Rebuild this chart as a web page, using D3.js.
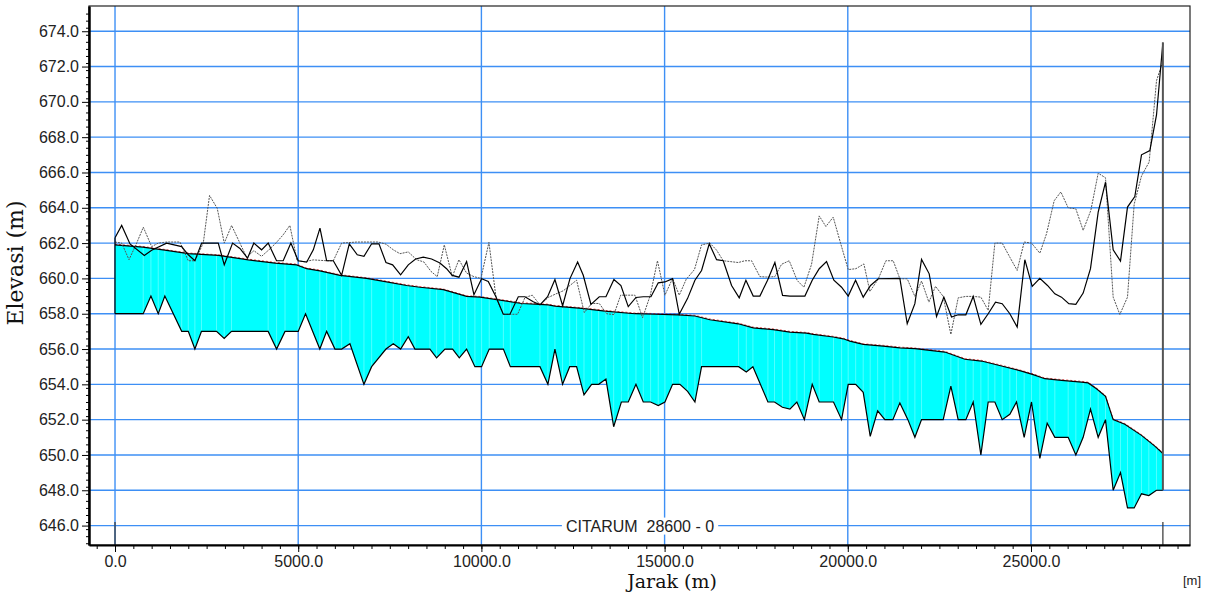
<!DOCTYPE html>
<html>
<head>
<meta charset="utf-8">
<script src="https://cdn.jsdelivr.net/npm/d3@7/dist/d3.min.js"></script>
<style>
  body { margin: 0; background: #fff; }
  .tick text { font-family: "Liberation Sans", Arial, sans-serif; font-size: 16px; fill: #222; }
</style>
</head>
<body>
<script>
// profile data, [station (m), elevation (m)]
let channelBed = [
  [0, 658], [770, 658], [980, 659], [1180, 658], [1360, 659], [1820, 657], [2000, 657],
  [2180, 656], [2360, 657], [2770, 657], [2980, 656.6], [3180, 657], [4180, 657], [4410, 656],
  [4640, 657], [5000, 657], [5200, 658], [5590, 656], [5776, 657], [6003, 656], [6185, 656],
  [6412, 656.3], [6794, 654], [7004, 655], [7395, 656], [7595, 656.3], [7795, 656], [8004, 656.7],
  [8186, 656], [8595, 656], [8777, 655.5], [9005, 656], [9214, 656], [9396, 655.5], [9596, 656],
  [9823, 655], [10005, 655], [10214, 656], [10600, 656], [10790, 655], [11598, 655], [11815, 654],
  [12007, 656], [12215, 654], [12410, 655], [12598, 655], [12800, 653.4], [13008, 654], [13200, 654],
  [13399, 654.3], [13610, 651.6], [13820, 653], [14008, 653], [14218, 654], [14418, 653], [14618, 653],
  [14827, 652.8], [15009, 653], [15218, 654], [15418, 654], [15628, 653.6], [15828, 653], [16009, 655],
  [17020, 655], [17230, 654.7], [17410, 655], [17820, 653], [18000, 653], [18215, 652.7], [18420, 652.6],
  [18610, 653], [18815, 652], [19029, 654], [19220, 653], [19610, 653], [19830, 652], [20011, 654],
  [20215, 654], [20421, 653.55], [20612, 651.05], [20815, 652.5], [21012, 652], [21230, 652],
  [21421, 652.95], [21640, 652], [21831, 651], [22013, 652], [22604, 652], [22813, 653.9], [23013, 652],
  [23222, 652], [23423, 653], [23632, 650], [23832, 653], [24014, 653], [24214, 652], [24423, 652.3],
  [24605, 653], [24814, 651], [25014, 653], [25242, 649.8], [25442, 651.8], [25651, 651], [26015, 651],
  [26224, 650], [26424, 651], [26624, 652.6], [26834, 651], [27034, 652], [27243, 648], [27443, 649],
  [27634, 647], [27816, 647], [28016, 647.8], [28216, 647.7], [28425, 648], [28600, 648]
];

let waterSurface = [
  [0, 661.9], [760, 661.77], [1360, 661.6], [2000, 661.4], [2820, 661.3], [3640, 661.05],
  [4370, 660.87], [4955, 660.77], [5230, 660.55], [5594, 660.43], [6140, 660.17], [6867, 660.0],
  [7413, 659.8], [7960, 659.6], [8323, 659.5], [8960, 659.36], [9596, 658.98], [9960, 658.94],
  [10370, 658.81], [11098, 658.58], [11825, 658.5], [12007, 658.43], [12735, 658.3], [13372, 658.15],
  [14190, 658.0], [14736, 657.97], [15373, 657.93], [15828, 657.87], [16237, 657.66], [17010, 657.43],
  [17419, 657.2], [17965, 657.1], [18420, 656.96], [18874, 656.9], [19056, 656.83], [19602, 656.68],
  [19875, 656.58], [20057, 656.45], [20421, 656.26], [20967, 656.17], [21422, 656.07], [21831, 656.02],
  [22650, 655.83], [23195, 655.42], [23650, 655.32], [24196, 655.04], [24741, 654.75], [25060, 654.55],
  [25378, 654.32], [25833, 654.23], [26379, 654.13], [26560, 654.08], [26788, 653.75], [27034, 653.32],
  [27243, 652.0], [27561, 651.74], [28016, 651.11], [28380, 650.5], [28600, 650.08]
];

let leftBank = [
  [0, 662.3], [182, 663.0], [409, 661.95], [800, 661.3], [1000, 661.6], [1409, 662.0], [1818, 661.8],
  [2000, 661.34], [2180, 661.0], [2364, 662], [2818, 662], [2982, 660.77], [3209, 662], [3409, 661.7],
  [3618, 661.15], [3790, 662], [4000, 661.62], [4181, 662], [4409, 661], [4590, 661], [4800, 662],
  [5000, 661.0], [5230, 660.92], [5412, 661.62], [5594, 662.85], [5776, 661.0], [5958, 661.0],
  [6185, 660.17], [6394, 661.96], [6612, 661.34], [6794, 661.25], [7004, 661.96], [7204, 661.96],
  [7395, 660.9], [7577, 660.77], [7795, 660.2], [8004, 660.77], [8204, 661.1], [8414, 661.2],
  [8641, 661.1], [8868, 660.87], [9050, 660.55], [9205, 660.17], [9387, 660.07], [9596, 660.96],
  [9796, 659.08], [10005, 659.98], [10187, 659.83], [10400, 658.95], [10597, 657.97], [10779, 657.97],
  [11007, 658.96], [11189, 658.96], [11416, 658.68], [11598, 658.5], [11807, 658.96], [12007, 659.94],
  [12217, 658.45], [12417, 659.99], [12626, 660.93], [12780, 660.18], [12990, 658.53], [13217, 658.96],
  [13399, 658.96], [13617, 659.94], [13808, 659.6], [14008, 658.4], [14218, 658.92], [14418, 658.96],
  [14627, 658.96], [14827, 659.75], [15009, 659.8], [15218, 659.99], [15400, 657.97], [15628, 658.87],
  [15828, 659.9], [16009, 660.45], [16219, 661.96], [16419, 661.06], [16601, 661.0], [16828, 659.6],
  [17037, 658.9], [17219, 659.9], [17419, 659.0], [17601, 659.0], [17810, 659.9], [18010, 660.9],
  [18220, 659.04], [18420, 659], [18829, 659], [19029, 659.9], [19220, 660.55], [19420, 660.96],
  [19620, 659.9], [19830, 659.5], [20012, 659.0], [20212, 659.9], [20421, 658.94], [20621, 659.6],
  [20830, 659.98], [21421, 660], [21622, 657.43], [21831, 658.57], [22013, 661.08], [22222, 660.26],
  [22422, 657.85], [22622, 658.94], [22831, 657.81], [23013, 657.94], [23222, 657.94], [23423, 658.98],
  [23632, 657.4], [23832, 658.0], [24032, 658.66], [24214, 658.57], [24423, 658.0], [24623, 657.25],
  [24832, 661.06], [25033, 659.55], [25242, 660], [25451, 659.6], [25651, 659.13], [25833, 658.94],
  [26033, 658.57], [26224, 658.53], [26424, 659.17], [26624, 660.55], [26834, 663.75], [27034, 665.45],
  [27243, 661.62], [27443, 660.98], [27634, 664.04], [27834, 664.64], [28016, 667.0], [28244, 667.24],
  [28426, 669.26], [28600, 673.36]
];

let rightBank = [
  [0, 662.06], [182, 662], [382, 661.06], [591, 662], [773, 662.9], [1000, 661.8], [1182, 662],
  [1409, 662.06], [1773, 662.06], [2000, 661], [2182, 661], [2409, 662], [2580, 664.7], [2790, 663.97],
  [2982, 662], [3182, 663.0], [3409, 662], [3591, 661.2], [3790, 661.57], [4000, 661.25], [4200, 661.62],
  [4390, 662], [4590, 662.47], [4772, 663], [4970, 661.0], [5180, 660.95], [5412, 661.05], [5776, 661.0],
  [5958, 661.0], [6185, 662.0], [6594, 662.06], [7186, 662.06], [7395, 661.94], [7595, 661.62],
  [7777, 661.4], [8004, 661.5], [8231, 661.06], [8431, 660.93], [8623, 660.4], [8795, 660.1],
  [8987, 661.9], [9205, 660.1], [9387, 661.06], [9596, 660.3], [9796, 660.1], [9987, 660.0],
  [10205, 662.04], [10400, 658.9], [10597, 657.97], [10988, 657.97], [11189, 658.92], [11389, 659.05],
  [11598, 658.5], [11825, 658.92], [12007, 659.1], [12235, 659.3], [12598, 659.9], [12808, 658.06],
  [13008, 658.58], [13217, 658.58], [13417, 658.0], [13617, 657.95], [13800, 659.05], [14190, 659.05],
  [14400, 657.77], [14610, 659.05], [14805, 661.0], [15009, 659.05], [15218, 660.0], [15400, 659.05],
  [15590, 659.95], [15815, 660.5], [16009, 661.9], [16237, 662.0], [16419, 661.6], [16600, 661.0],
  [17010, 660.9], [17192, 661.0], [17374, 661.0], [17601, 660.1], [17783, 660.08], [18010, 660.1],
  [18192, 660.8], [18402, 661.0], [18620, 659.88], [18802, 659.5], [19011, 660.8], [19220, 663.54],
  [19402, 662.94], [19602, 663.47], [19802, 662.0], [20012, 660.5], [20221, 660.55], [20439, 660.82],
  [20603, 659.26], [20830, 659.96], [21039, 661.0], [21240, 661.0], [21421, 659.98], [21622, 659.98],
  [21831, 658.98], [22013, 659.85], [22213, 658.66], [22395, 659.55], [22604, 658.98], [22813, 656.83],
  [23013, 658.9], [23222, 658.98], [23423, 658.98], [23632, 658.94], [23832, 658.19], [24014, 662.0],
  [24214, 662], [24423, 661.2], [24623, 660.45], [24814, 662.06], [25014, 662.0], [25242, 661.43],
  [25424, 662.53], [25633, 664.4], [25815, 664.9], [26015, 664.0], [26224, 663.94], [26424, 662.72],
  [26633, 663.85], [26834, 665.96], [27034, 665.7], [27243, 658.94], [27425, 657.96], [27634, 658.94],
  [27816, 664.2], [28016, 665.8], [28226, 666.6], [28426, 671.2], [28600, 672.3]
];

// axis ticks
let xTicks = [0, 5000, 10000, 15000, 20000, 25000];
let yTicks = [646, 648, 650, 652, 654, 656, 658, 660, 662, 664, 666, 668, 670, 672, 674];
let reachEnds = [0, 28600];
let reachLabel = "CITARUM  28600 - 0";

// plot box inside the 1208 x 595 window
let plot = {left: 89, right: 1190, top: 6, bottom: 545};

let x = d3.scaleLinear().domain([-710, 29340]).range([plot.left, plot.right]);
let y = d3.scaleLinear().domain([644.9, 675.43]).range([plot.bottom, plot.top]);

let line = d3.line()
    .x(function(d) { return x(d[0]); })
    .y(function(d) { return y(d[1]); });

let svg = d3.select("body").append("svg")
    .attr("width", 1208)
    .attr("height", 595)
    .style("font-family", "Liberation Sans, Arial, sans-serif");

// grid lines
let grid = svg.append("g");
grid.selectAll(".hgrid")
    .data(yTicks)
    .enter().append("line")
    .attr("x1", plot.left).attr("x2", plot.right)
    .attr("y1", function(d) { return y(d); })
    .attr("y2", function(d) { return y(d); })
    .style("stroke", "#3d8ff5")
    .style("stroke-width", 1.4);
grid.selectAll(".vgrid")
    .data(xTicks)
    .enter().append("line")
    .attr("y1", plot.top).attr("y2", plot.bottom)
    .attr("x1", function(d) { return x(d); })
    .attr("x2", function(d) { return x(d); })
    .style("stroke", "#3d8ff5")
    .style("stroke-width", 1.4);

// water body: water surface forward, bed backwards
let waterPoly = waterSurface.concat(channelBed.slice().reverse());

svg.append("defs").append("clipPath")
    .attr("id", "waterclip")
    .append("path")
    .attr("d", line(waterPoly) + "Z");

svg.append("path")
    .attr("d", line(waterPoly) + "Z")
    .style("fill", "#00ffff")
    .style("stroke", "none");

// cross section seams inside the water
svg.append("g")
    .attr("clip-path", "url(#waterclip)")
    .selectAll("line")
    .data(channelBed.slice(1, -1))
    .enter().append("line")
    .attr("x1", function(d) { return x(d[0]); })
    .attr("x2", function(d) { return x(d[0]); })
    .attr("y1", plot.top).attr("y2", plot.bottom)
    .style("stroke", "#ffffff")
    .style("stroke-opacity", 0.4)
    .style("stroke-width", 0.8);

// energy grade (red) just above the water surface
svg.append("path")
    .datum(waterSurface)
    .attr("d", line)
    .attr("transform", "translate(0,-0.7)")
    .style("fill", "none")
    .style("stroke", "#e02020")
    .style("stroke-width", 0.8)
    .style("stroke-dasharray", "2,2");

svg.append("path")
    .datum(waterSurface)
    .attr("d", line)
    .style("fill", "none")
    .style("stroke", "#000")
    .style("stroke-width", 1.2);

// channel bed
svg.append("path")
    .datum(channelBed)
    .attr("d", line)
    .style("fill", "none")
    .style("stroke", "#000")
    .style("stroke-width", 1.2);

// right bank (dotted)
svg.append("path")
    .datum(rightBank)
    .attr("d", line)
    .style("fill", "none")
    .style("stroke", "#555")
    .style("stroke-width", 1)
    .style("stroke-dasharray", "2,1");

// left bank
svg.append("path")
    .datum(leftBank)
    .attr("d", line)
    .style("fill", "none")
    .style("stroke", "#000")
    .style("stroke-width", 1.2);

// ends of the reach
let first = channelBed[0], last = channelBed[channelBed.length - 1];
svg.append("line")
    .attr("x1", x(first[0])).attr("x2", x(first[0]))
    .attr("y1", y(first[1])).attr("y2", y(leftBank[0][1]))
    .style("stroke", "#000").style("stroke-width", 1.2);
svg.append("line")
    .attr("x1", x(last[0])).attr("x2", x(last[0]))
    .attr("y1", y(last[1])).attr("y2", y(leftBank[leftBank.length - 1][1]))
    .style("stroke", "#555").style("stroke-width", 2);

svg.selectAll(".reachend")
    .data(reachEnds)
    .enter().append("line")
    .attr("x1", function(d) { return x(d); })
    .attr("x2", function(d) { return x(d); })
    .attr("y1", y(646.2)).attr("y2", plot.bottom)
    .style("stroke", "#333")
    .style("stroke-width", 1.2);

// reach name
let lbl = svg.append("g");
let lblText = lbl.append("text")
    .attr("x", 640).attr("y", y(646) + 6)
    .attr("text-anchor", "middle")
    .style("font-size", "16px")
    .style("fill", "#222")
    .style("white-space", "pre")
    .attr("xml:space", "preserve")
    .text(reachLabel);
let bb = lblText.node().getBBox();
lbl.insert("rect", "text")
    .attr("x", bb.x - 4).attr("y", bb.y)
    .attr("width", bb.width + 8).attr("height", bb.height)
    .style("fill", "#fff");

// frame
svg.append("rect")
    .attr("x", plot.left).attr("y", plot.top)
    .attr("width", plot.right - plot.left)
    .attr("height", plot.bottom - plot.top)
    .style("fill", "none")
    .style("stroke", "#222")
    .style("stroke-width", 1.2);

// Add the Y Axis
let yMinor = d3.range(645, 675.4, 0.4);
svg.append("g")
    .attr("transform", "translate(" + plot.left + ",0)")
    .call(d3.axisLeft(y).tickValues(yMinor).tickSize(3).tickFormat("").tickSizeOuter(0))
    .call(function(g) { g.select(".domain").remove(); });
svg.append("g")
    .attr("transform", "translate(" + plot.left + ",0)")
    .call(d3.axisLeft(y).tickValues(yTicks).tickSize(7).tickPadding(3)
        .tickFormat(d3.format(".1f")).tickSizeOuter(0))
    .call(function(g) { g.select(".domain").style("stroke-width", 2.5); });

// Add the X Axis
let xMinor = d3.range(-500, 29300, 500);
svg.append("g")
    .attr("transform", "translate(0," + plot.bottom + ")")
    .call(d3.axisBottom(x).tickValues(xMinor).tickSize(4).tickFormat("").tickSizeOuter(0))
    .call(function(g) { g.select(".domain").remove(); });
svg.append("g")
    .attr("transform", "translate(0," + plot.bottom + ")")
    .call(d3.axisBottom(x).tickValues(xTicks).tickSize(7).tickPadding(4)
        .tickFormat(d3.format(".1f")).tickSizeOuter(0))
    .call(function(g) { g.select(".domain").style("stroke-width", 2); });

// axis titles
svg.append("text")
    .attr("transform", "translate(23,263) rotate(-90)")
    .attr("text-anchor", "middle")
    .style("font-family", "DejaVu Serif, serif")
    .style("font-size", "22px")
    .style("fill", "#111")
    .text("Elevasi (m)");

svg.append("text")
    .attr("x", 672).attr("y", 588)
    .attr("text-anchor", "middle")
    .style("font-family", "DejaVu Serif, serif")
    .style("font-size", "19px")
    .style("fill", "#111")
    .text("Jarak (m)");

svg.append("text")
    .attr("x", 1192).attr("y", 585)
    .attr("text-anchor", "middle")
    .style("font-size", "13px")
    .style("fill", "#222")
    .text("[m]");
</script>
</body>
</html>
